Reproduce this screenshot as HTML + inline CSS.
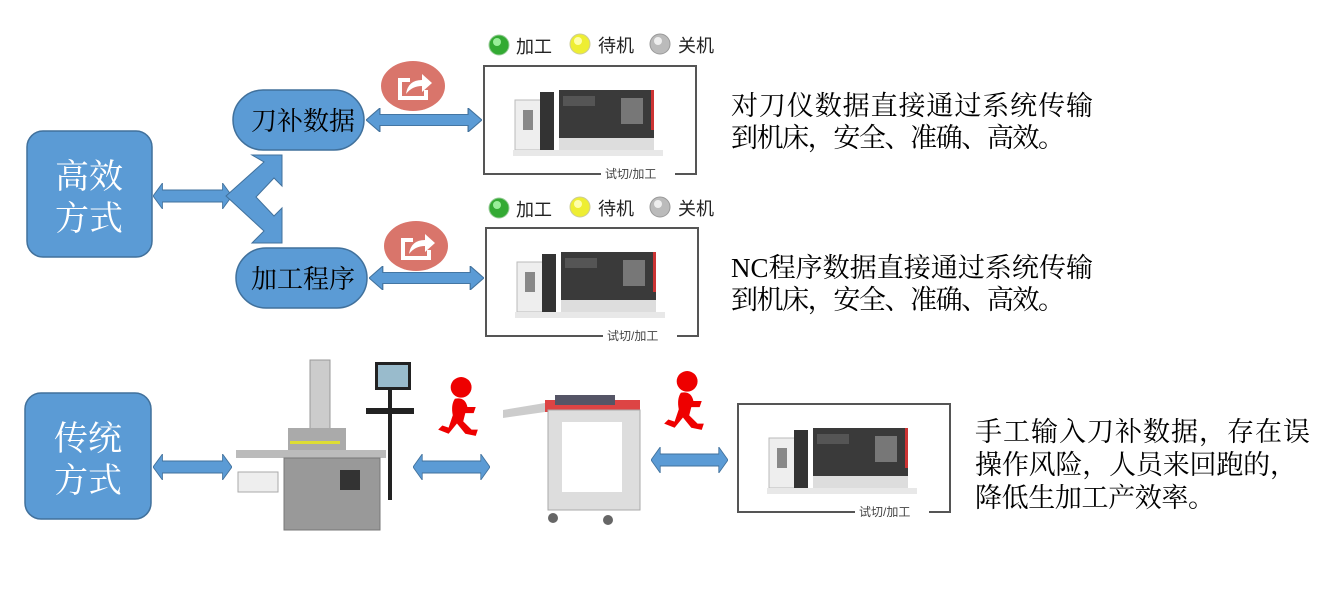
<!DOCTYPE html>
<html><head><meta charset="utf-8"><style>
body{margin:0;width:1319px;height:600px;background:#fff;overflow:hidden;font-family:"Liberation Serif","Noto Serif CJK SC","Noto Sans CJK SC",serif}
svg{position:absolute;left:0;top:0}
.t{font-family:"Liberation Serif","Noto Serif CJK SC",serif}
.s{font-family:"Liberation Sans","Noto Sans CJK SC",sans-serif}
</style></head><body>
<svg width="1319" height="600" viewBox="0 0 1319 600">
<defs>
<symbol id="arr" viewBox="0 0 100 26" preserveAspectRatio="none"><polygon points="0,13 12,0 12,7 88,7 88,0 100,13 88,26 88,19 12,19 12,26" fill="#5b9bd5" stroke="#41719c" stroke-width="1"/></symbol>
<symbol id="mach" viewBox="0 0 214 140">
<rect x="1" y="26" width="212" height="108" fill="#fff" stroke="#555" stroke-width="2"/>
<rect x="118" y="126" width="74" height="14" fill="#fff"/>
<text x="122" y="138" font-size="12" fill="#444" class="s">试切/加工</text>
<rect x="32" y="60" width="26" height="50" fill="#eee" stroke="#bbb"/>
<rect x="40" y="70" width="10" height="20" fill="#888"/>
<rect x="57" y="52" width="14" height="60" fill="#333"/>
<rect x="76" y="50" width="95" height="60" fill="#3a3a3a"/>
<rect x="80" y="56" width="32" height="10" fill="#555"/>
<rect x="138" y="58" width="22" height="26" fill="#777"/>
<rect x="76" y="98" width="95" height="12" fill="#ddd"/>
<rect x="30" y="110" width="150" height="6" fill="#e8e8e8"/>
<rect x="168" y="50" width="3" height="40" fill="#c33"/>
</symbol>
<symbol id="lights" viewBox="0 0 240 26">
<circle cx="13" cy="13" r="10" fill="#3a3" stroke="#9c9"/><circle cx="11" cy="10" r="4" fill="#9e9"/>
<text x="30" y="21" font-size="18" class="s" fill="#222">加工</text>
<circle cx="94" cy="12" r="10" fill="#ee3" stroke="#cc9"/><circle cx="92" cy="9" r="4" fill="#ffa"/>
<text x="112" y="20" font-size="18" class="s" fill="#222">待机</text>
<circle cx="174" cy="12" r="10" fill="#bbb" stroke="#999"/><circle cx="172" cy="9" r="4" fill="#eee"/>
<text x="192" y="20" font-size="18" class="s" fill="#222">关机</text>
</symbol>
<symbol id="share" viewBox="0 0 66 52">
<ellipse cx="33" cy="26" rx="32" ry="25" fill="#d9756b"/>
<path d="M18 18 H30 V22 H22 V36 H44 V30 H48 V40 H18Z" fill="#fff"/>
<path d="M26 34 Q28 20 42 20 V14 L52 23 L42 32 V26 Q32 26 26 34Z" fill="#fff"/>
</symbol>
<symbol id="man" viewBox="0 0 46 64" preserveAspectRatio="none">
<circle cx="26" cy="11" r="10" fill="#e00"/>
<path d="M20 22 Q30 20 32 30 L40 30 L38 36 L30 36 L28 44 L36 52 L42 52 L40 58 L30 56 L22 46 L14 56 L4 52 L8 48 L14 50 L18 38 Q16 28 20 22Z" fill="#e00"/>
</symbol>
</defs>

<rect x="27" y="131" width="125" height="126" rx="16" fill="#5b9bd5" stroke="#41719c" stroke-width="1.5"/>
<text x="89" y="188" font-size="34" fill="#fff" text-anchor="middle" class="t">高效</text>
<text x="89" y="230" font-size="34" fill="#fff" text-anchor="middle" class="t">方式</text>
<rect x="25" y="393" width="126" height="126" rx="16" fill="#5b9bd5" stroke="#41719c" stroke-width="1.5"/>
<text x="88" y="450" font-size="34" fill="#fff" text-anchor="middle" class="t">传统</text>
<text x="88" y="492" font-size="34" fill="#fff" text-anchor="middle" class="t">方式</text>

<use href="#arr" x="153" y="183" width="79" height="26"/>
<polygon points="226,196 264,162 252,155 282,155 282,186 274,178 256,197 274,216 282,208 282,243 252,243 264,231" fill="#5b9bd5" stroke="#41719c"/>

<rect x="233" y="90" width="131" height="60" rx="30" fill="#5b9bd5" stroke="#41719c" stroke-width="1.5"/>
<text x="303" y="130" font-size="26" text-anchor="middle" class="t" fill="#000">刀补数据</text>
<rect x="236" y="248" width="131" height="60" rx="30" fill="#5b9bd5" stroke="#41719c" stroke-width="1.5"/>
<text x="303" y="288" font-size="26" text-anchor="middle" class="t" fill="#000">加工程序</text>

<use href="#arr" x="366" y="108" width="116" height="24"/>
<use href="#arr" x="369" y="266" width="115" height="24"/>
<use href="#share" x="380" y="60" width="66" height="52"/>
<use href="#share" x="383" y="220" width="66" height="52"/>

<use href="#lights" x="486" y="32" width="240" height="26"/>
<use href="#lights" x="486" y="195" width="240" height="26"/>
<use href="#mach" x="483" y="40" width="214" height="140"/>
<use href="#mach" x="485" y="202" width="214" height="140"/>
<use href="#mach" x="737" y="378" width="214" height="140"/>

<g font-size="27" class="t" fill="#000">
<text x="731" y="115" textLength="362" lengthAdjust="spacing">对刀仪数据直接通过系统传输</text>
<text x="731" y="147" textLength="334" lengthAdjust="spacing">到机床，安全、准确、高效。</text>
<text x="731" y="277" textLength="362" lengthAdjust="spacing">NC程序数据直接通过系统传输</text>
<text x="731" y="309" textLength="334" lengthAdjust="spacing">到机床，安全、准确、高效。</text>
<text x="975" y="441" textLength="335" lengthAdjust="spacing">手工输入刀补数据，存在误</text>
<text x="975" y="474" textLength="322" lengthAdjust="spacing">操作风险，人员来回跑的，</text>
<text x="975" y="507" textLength="240" lengthAdjust="spacing">降低生加工产效率。</text>
</g>

<use href="#arr" x="153" y="454" width="79" height="26"/>
<use href="#arr" x="413" y="454" width="77" height="26"/>
<use href="#arr" x="651" y="447" width="77" height="26"/>
<use href="#man" x="434" y="376" width="48" height="66"/>
<use href="#man" x="660" y="370" width="48" height="66"/>

<g>
<rect x="310" y="360" width="20" height="70" fill="#ccc" stroke="#999"/>
<rect x="288" y="428" width="58" height="22" fill="#aaa"/>
<rect x="290" y="441" width="50" height="3" fill="#dd3"/>
<rect x="236" y="450" width="150" height="8" fill="#bbb"/>
<rect x="284" y="458" width="96" height="72" fill="#999" stroke="#777"/>
<rect x="340" y="470" width="20" height="20" fill="#333"/>
<rect x="238" y="472" width="40" height="20" fill="#eee" stroke="#aaa"/>
<rect x="375" y="362" width="36" height="28" fill="#222"/><rect x="378" y="365" width="30" height="22" fill="#9bc"/>
<rect x="366" y="408" width="48" height="6" fill="#222"/>
<rect x="388" y="390" width="4" height="110" fill="#222"/>
</g>
<g>
<polygon points="503,410 545,403 545,412 503,418" fill="#ccc"/>
<rect x="545" y="400" width="95" height="12" fill="#d44"/>
<rect x="548" y="410" width="92" height="100" fill="#ddd" stroke="#aaa"/>
<rect x="562" y="422" width="60" height="70" fill="#fff"/>
<rect x="555" y="395" width="60" height="10" fill="#556"/>
<circle cx="553" cy="518" r="5" fill="#666"/><circle cx="608" cy="520" r="5" fill="#666"/>
</g>
</svg>
</body></html>
